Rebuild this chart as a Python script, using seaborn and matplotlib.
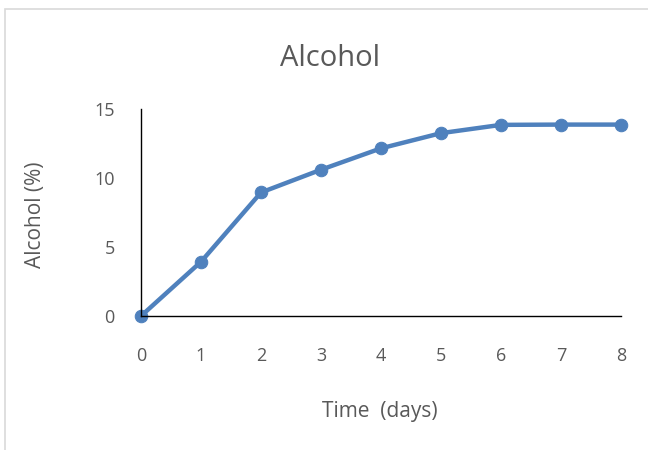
import matplotlib
matplotlib.use("Agg")
import matplotlib.pyplot as plt
import seaborn as sns
import pandas as pd
from matplotlib.patches import Rectangle

days = [0, 1, 2, 3, 4, 5, 6, 7, 8]
alcohol = [0, 3.93, 8.95, 10.6, 12.15, 13.25, 13.85, 13.87, 13.87]
y_ticks = [0, 5, 10, 15]

df = pd.DataFrame({"day": days, "alcohol": alcohol})

sns.set_style("white")
plt.rcParams["font.family"] = ["Open Sans", "DejaVu Sans"]

fig = plt.figure(figsize=(6.48, 4.5), dpi=100)
ax = fig.add_axes([141 / 648, 1 - 316 / 450, 480 / 648, 207 / 450])

sns.lineplot(data=df, x="day", y="alcohol", ax=ax, color="#4F81BD",
             linewidth=3.2, marker="o", markersize=9,
             markeredgecolor="#4F81BD", clip_on=False)

ax.set_xlim(0, 8)
ax.set_ylim(0, 15)
ax.set_xticks(days)
ax.set_yticks(y_ticks)
ax.tick_params(axis="x", length=0, pad=22, labelsize=13, labelcolor="#595959")
ax.tick_params(axis="y", length=0, pad=19, labelsize=13, labelcolor="#595959")

for s in ["top", "right"]:
    ax.spines[s].set_visible(False)
for s in ["left", "bottom"]:
    ax.spines[s].set_color("black")
    ax.spines[s].set_linewidth(1.0)

ax.set_xlabel("Time  (days)", fontsize=15, color="#595959")
ax.set_ylabel("Alcohol (%)", fontsize=15, color="#595959")
ax.xaxis.set_label_coords(0.498, -0.41)
ax.yaxis.set_label_coords(-0.198, 0.488)

ax.text(0.394, 1.245, "Alcohol", transform=ax.transAxes, ha="center",
        va="center", fontsize=21, color="#595959")

fig.patches.append(Rectangle((5 / 648, -0.1), 1.2, 1 - 9 / 450 + 0.1,
                             transform=fig.transFigure, fill=False,
                             edgecolor="#D9D9D9", linewidth=1.2))

fig.savefig("out.png", dpi=100)
